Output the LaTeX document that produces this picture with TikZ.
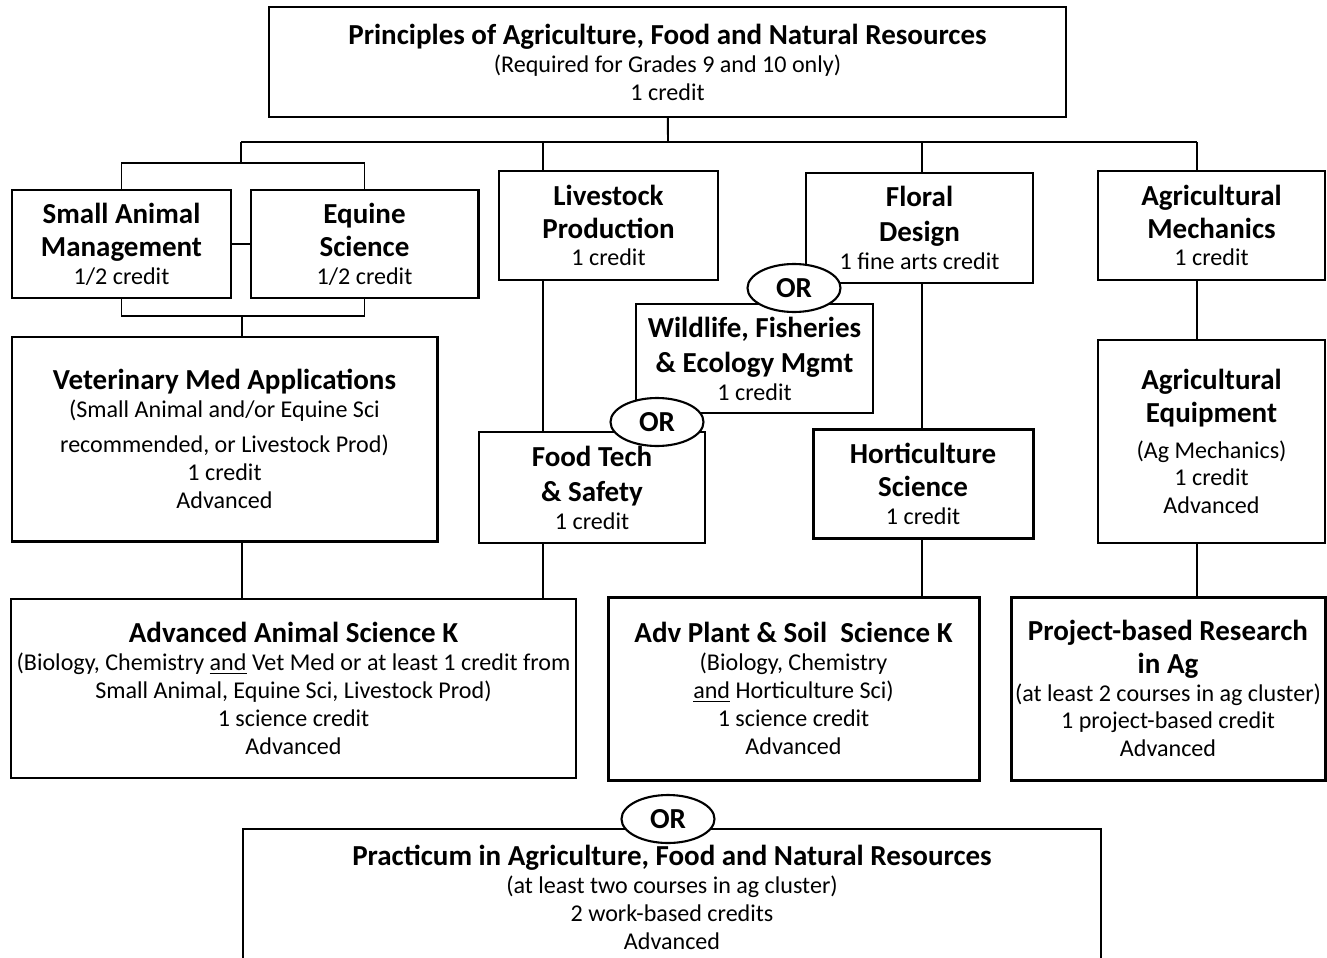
\documentclass[tikz,border=0pt]{standalone}
\usepackage{fontspec}
\setmainfont{Carlito}
\usepackage{tikz}
\usetikzlibrary{shapes.geometric}

\newcommand{\hd}{\fontsize{16.5}{15.9}\selectfont\bfseries}
\newcommand{\tx}{\fontsize{13.7}{15.9}\selectfont}

\begin{document}
\begin{tikzpicture}[line width=1.1pt, line join=miter,
  box/.style={draw, line width=1.3pt, align=center, inner sep=1pt, font=\tx},
  thinbox/.style={box, line width=0.85pt},
  thickbox/.style={box, line width=1.7pt},
  orbubble/.style={draw, ellipse, fill=white, line width=1.2pt, inner sep=0pt,
    minimum width=1.86cm, minimum height=0.96cm, font=\hd}]
  \useasboundingbox (0,0) rectangle (26.54,-19.14);
  \clip (0,0) rectangle (26.54,-19.14);
  % first row
  \node[box, minimum width=15.94cm, minimum height=2.2cm] (top) at (13.35,-1.24)
    {{\hd Principles of Agriculture, Food and Natural Resources}\\
     (Required for Grades 9 and 10 only)\\ 1 credit};
  \node[thickbox, minimum width=4.38cm, minimum height=2.16cm] (sam) at (2.43,-4.88)
    {{\hd Small Animal}\\[2.8pt]{\hd Management}\\ 1/2 credit};
  \node[thickbox, minimum width=4.54cm, minimum height=2.16cm] (equ) at (7.29,-4.88)
    {{\hd Equine}\\[2.8pt]{\hd Science}\\ 1/2 credit};
  \node[box, minimum width=4.38cm, minimum height=2.18cm] (live) at (12.17,-4.51)
    {{\hd Livestock}\\[2.8pt]{\hd Production}\\ 1 credit};
  \node[box, minimum width=4.54cm, minimum height=2.2cm] (flor) at (18.39,-4.56)
    {{\hd Floral}\\[4pt]{\hd Design}\\ 1 fine arts credit};
  \node[box, minimum width=4.54cm, minimum height=2.18cm] (mech) at (24.23,-4.51)
    {{\hd Agricultural}\\[2.8pt]{\hd Mechanics}\\ 1 credit};
  % second row
  \node[thickbox, minimum width=8.5cm, minimum height=4.08cm] (vet) at (4.49,-8.78)
    {{\hd Veterinary Med Applications}\\
     (Small Animal and/or Equine Sci\\[4pt]
     recommended, or Livestock Prod)\\ 1 credit\\ Advanced};
  \node[thinbox, minimum width=4.74cm, minimum height=2.18cm] (wild) at (15.09,-7.17)
    {{\hd Wildlife, Fisheries}\\[4pt]{\hd \& Ecology Mgmt}\\ 1 credit};
  \node[thinbox, minimum width=4.52cm, minimum height=2.22cm] (food) at (11.84,-9.75)
    {{\hd Food Tech}\\[4pt]{\hd \& Safety}\\ 1 credit};
  \node[thickbox, minimum width=4.4cm, minimum height=2.18cm] (hort) at (18.46,-9.67)
    {{\hd Horticulture}\\[2.8pt]{\hd Science}\\ 1 credit};
  \node[thinbox, minimum width=4.54cm, minimum height=4.06cm] (equip) at (24.23,-8.83)
    {{\hd Agricultural}\\[2.8pt]{\hd Equipment}\\[4.5pt]
     (Ag Mechanics)\\ 1 credit\\ Advanced};
  % third row
  \node[thinbox, minimum width=11.3cm, minimum height=3.58cm] (anim) at (5.87,-13.77)
    {{\hd Advanced Animal Science K}\\
     (Biology, Chemistry \underline{and} Vet Med or at least 1 credit from\\
     Small Animal, Equine Sci, Livestock Prod)\\ 1 science credit\\ Advanced};
  \node[thickbox, minimum width=7.42cm, minimum height=3.66cm] (plant) at (15.87,-13.77)
    {{\hd Adv Plant \& Soil\ \ Science K}\\ (Biology, Chemistry\\
     \underline{and} Horticulture Sci)\\ 1 science credit\\ Advanced};
  \node[thickbox, minimum width=6.28cm, minimum height=3.66cm] (proj) at (23.36,-13.77)
    {{\hd Project-based Research}\\[2.8pt]{\hd in Ag}\\
     (at least 2 courses in ag cluster)\\ 1 project-based credit\\ Advanced};
  \node[box, minimum width=17.16cm, minimum height=2.72cm] (prac) at (13.44,-17.94)
    {{\hd Practicum in Agriculture, Food and Natural Resources}\\
     (at least two courses in ag cluster)\\ 2 work-based credits\\ Advanced};
  % OR bubbles
  \node[orbubble] (or1) at (15.88,-5.76) {OR};
  \node[orbubble] (or2) at (13.14,-8.44) {OR};
  \node[orbubble] (or3) at (13.36,-16.38) {OR};
  % tree lines
  \coordinate (bus) at (13.36,-2.84);
  \coordinate (busL) at (4.82,-2.84);
  \coordinate (busR) at (23.94,-2.84);
  \coordinate (lx) at (10.86,-2.84);
  \coordinate (fx) at (18.44,-2.84);
  \coordinate (pairT) at (4.82,-3.26);
  \coordinate (pairB) at (4.84,-6.32);
  \draw (top) -- (bus);
  \draw (busL) -- (busR);
  \draw (busL) -- (pairT);
  \draw (sam.north) |- (pairT) -| (equ.north);
  \draw (sam.east) -- (equ.west);
  \draw (lx) -- (lx |- live.north);
  \draw (fx) -- (fx |- flor.north);
  \draw (busR) -- (busR |- mech.north);
  \draw (sam.south) |- (pairB) -| (equ.south);
  \draw (pairB) -- (pairB |- vet.north);
  \draw (lx |- live.south) -- (lx |- food.north);
  \draw (fx |- flor.south) -- (fx |- hort.north);
  \draw (busR |- mech.south) -- (busR |- equip.north);
  \draw (pairB |- vet.south) -- (pairB |- anim.north);
  \draw (lx |- food.south) -- (lx |- anim.north);
  \draw (fx |- hort.south) -- (fx |- plant.north);
  \draw (busR |- equip.south) -- (busR |- proj.north);
\end{tikzpicture}
\end{document}
